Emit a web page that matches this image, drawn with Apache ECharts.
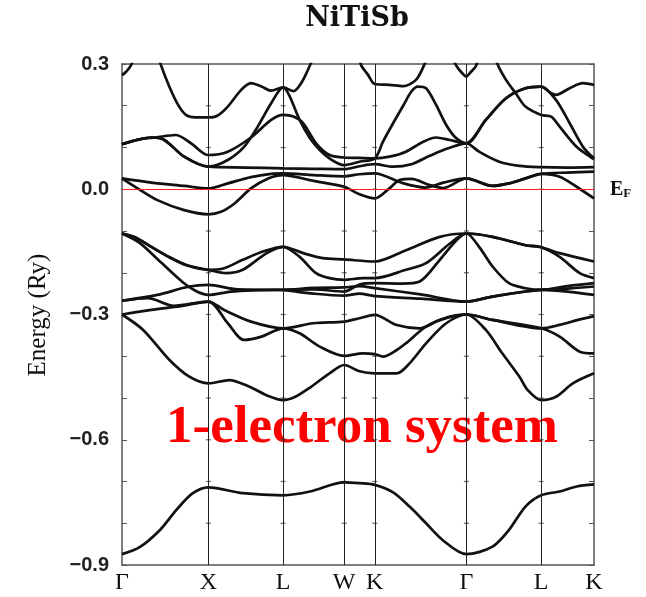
<!DOCTYPE html>
<html><head><meta charset="utf-8">
<script src="https://cdn.jsdelivr.net/npm/echarts@6/dist/echarts.min.js"></script>
<style>html,body{margin:0;padding:0;background:#fff}#c{width:646px;height:597px}</style>
</head><body><div id="c"></div>
<script>
// high-symmetry points: path distances (units of 2pi/a) and labels
const kpts = [0, 1, 1.866, 2.573, 2.927, 3.988, 4.854, 5.466];
const kLabels = ['Γ','X','L','W','K','Γ','L','K'];
const yTicks = [-0.9,-0.8,-0.7,-0.6,-0.5,-0.4,-0.3,-0.2,-0.1,0,0.1,0.2,0.3];
// bands: [segment parameter s (0=Γ,1=X,2=L,3=W,4=K,5=Γ,6=L,7=K), Energy (Ry)]
const bandSbS = [[0,-0.874],[0.2,-0.858],[0.44,-0.816],[0.63,-0.768],[0.82,-0.728],[1,-0.714],[1.46,-0.728],[2,-0.733],[2.44,-0.724],[3,-0.702],[3.5,-0.704],[4,-0.708],[4.2,-0.726],[4.38,-0.760],[4.56,-0.800],[4.74,-0.840],[5,-0.874],[5.35,-0.856],[5.57,-0.816],[5.79,-0.760],[6,-0.733],[6.35,-0.724],[6.67,-0.712],[7,-0.707]];
const bandP1 = [[0,-0.300],[0.245,-0.337],[0.55,-0.409],[0.78,-0.449],[1,-0.465],[1.28,-0.457],[1.55,-0.473],[1.8,-0.495],[2,-0.505],[2.2,-0.497],[2.44,-0.475],[2.76,-0.441],[3,-0.421],[3.5,-0.436],[4,-0.441],[4.24,-0.441],[4.38,-0.417],[4.56,-0.369],[4.78,-0.321],[5,-0.300],[5.26,-0.337],[5.48,-0.393],[5.71,-0.449],[5.82,-0.481],[6,-0.505],[6.28,-0.497],[6.6,-0.465],[7,-0.441]];
const bandE = [[0,-0.300],[0.34,-0.289],[0.68,-0.280],[1,-0.269],[1.26,-0.321],[1.48,-0.361],[1.71,-0.353],[2,-0.333],[2.27,-0.345],[2.6,-0.377],[3,-0.399],[3.61,-0.393],[4,-0.395],[4.09,-0.401],[4.24,-0.385],[4.34,-0.369],[4.56,-0.329],[4.82,-0.305],[5,-0.300],[5.35,-0.313],[6,-0.333],[6.35,-0.353],[6.73,-0.389],[7,-0.393]];
const bandD = [[0,-0.267],[0.3,-0.261],[0.6,-0.279],[1,-0.269],[1.21,-0.289],[1.57,-0.317],[2,-0.333],[2.49,-0.321],[3,-0.317],[3.5,-0.309],[4,-0.301],[4.24,-0.325],[4.49,-0.333],[4.71,-0.313],[5,-0.300],[5.35,-0.313],[6,-0.333],[6.35,-0.325],[6.7,-0.313],[7,-0.304]];
const bandC = [[0,-0.267],[0.41,-0.253],[0.78,-0.233],[1,-0.229],[1.39,-0.240],[2,-0.241],[2.5,-0.236],[3,-0.235],[3.5,-0.232],[4,-0.237],[4.5,-0.252],[5,-0.269],[5.35,-0.257],[5.79,-0.245],[6,-0.241],[6.5,-0.245],[7,-0.253]];
const bandC2 = [[2,-0.241],[2.5,-0.250],[3,-0.255],[3.5,-0.250],[4,-0.256],[4.5,-0.262],[5,-0.269],[5.35,-0.257],[5.79,-0.245],[6,-0.241],[6.5,-0.238],[7,-0.233]];
const bandB = [[0,-0.106],[0.2,-0.128],[0.45,-0.175],[0.7,-0.222],[0.85,-0.243],[1,-0.253],[1.3,-0.245],[1.6,-0.242],[2,-0.241],[2.5,-0.240],[3,-0.245],[3.5,-0.228],[4,-0.225],[4.3,-0.226],[4.49,-0.221],[4.71,-0.169],[4.88,-0.125],[5,-0.106],[5.17,-0.138],[5.35,-0.185],[5.57,-0.225],[5.79,-0.237],[6,-0.241],[6.5,-0.232],[7,-0.225]];
const bandA1 = [[0,-0.106],[0.15,-0.115],[0.34,-0.138],[0.55,-0.163],[0.75,-0.182],[1,-0.193],[1.2,-0.190],[1.46,-0.169],[1.75,-0.148],[2,-0.138],[2.33,-0.153],[2.65,-0.165],[3,-0.168],[4,-0.173],[4.34,-0.146],[4.71,-0.114],[5,-0.106],[5.35,-0.114],[5.79,-0.134],[6,-0.139],[6.35,-0.153],[7,-0.173]];
const bandA2 = [[0,-0.106],[0.15,-0.115],[0.34,-0.138],[0.55,-0.163],[0.75,-0.182],[1,-0.193],[1.24,-0.201],[1.46,-0.193],[1.78,-0.153],[2,-0.138],[2.27,-0.162],[2.54,-0.201],[2.76,-0.213],[3,-0.217],[3.61,-0.213],[4,-0.213],[4.34,-0.193],[4.56,-0.177],[4.82,-0.130],[5,-0.106],[5.35,-0.114],[5.79,-0.134],[6,-0.139],[6.35,-0.162],[6.73,-0.201],[7,-0.213]];
const bandG1 = [[0,0.026],[0.34,0.016],[0.72,0.008],[1,0.002],[1.26,0.014],[1.57,0.029],[1.84,0.037],[2,0.038],[2.5,0.034],[3,0.031],[3.5,0.036],[4,0.038],[4.3,0.015],[4.55,0.004],[4.75,0.016],[5,0.026],[5.35,0.008],[5.57,0.014],[5.79,0.026],[6,0.037],[6.5,0.040],[7,0.042]];
const bandG2 = [[0,0.026],[0.18,0.002],[0.41,-0.026],[0.72,-0.050],[1,-0.060],[1.17,-0.054],[1.35,-0.034],[1.57,0.002],[1.8,0.026],[2,0.034],[2.5,0.020],[3,0.006],[3.5,-0.012],[4,-0.022],[4.16,0.002],[4.27,0.022],[4.4,0.025],[4.6,0.010],[4.75,0.003],[5,0.026],[5.35,0.008],[5.57,0.014],[5.79,0.026],[6,0.037],[6.35,0.030],[6.67,0.006],[7,-0.022]];
const bandG3 = [[0,0.108],[0.22,0.120],[0.39,0.124],[0.62,0.130],[0.8,0.110],[1,0.082],[1.26,0.090],[1.57,0.124],[1.84,0.166],[2,0.178],[2.17,0.174],[2.33,0.158],[2.54,0.110],[2.76,0.082],[3,0.076],[3.5,0.075],[4,0.074],[4.16,0.078],[4.34,0.090],[4.53,0.114],[4.67,0.124],[4.82,0.118],[5,0.110],[5.26,0.166],[5.53,0.218],[5.79,0.242],[6,0.246],[6.19,0.230],[6.28,0.226],[6.54,0.242],[6.79,0.254],[7,0.250]];
const bandG4 = [[0,0.108],[0.34,0.124],[0.49,0.118],[0.72,0.078],[1,0.054],[1.5,0.052],[2,0.050],[2.5,0.049],[3,0.048],[3.5,0.055],[4,0.060],[4.2,0.054],[4.4,0.060],[4.6,0.080],[4.8,0.098],[5,0.110],[5.17,0.090],[5.44,0.066],[5.71,0.056],[6,0.053],[6.5,0.052],[7,0.053]];
const bandG7 = [[0,0.108],[0.34,0.124],[0.49,0.118],[0.72,0.078],[1,0.054],[1.26,0.070],[1.48,0.102],[1.66,0.150],[1.84,0.206],[2,0.244],[2.1,0.225],[2.27,0.166],[2.44,0.122],[2.6,0.094],[2.8,0.070],[3,0.058],[3.5,0.066],[4,0.074],[4.09,0.114],[4.2,0.158],[4.31,0.200],[4.4,0.234],[4.47,0.246],[4.56,0.242],[4.67,0.202],[4.78,0.154],[4.89,0.122],[5,0.110],[5.26,0.166],[5.53,0.218],[5.79,0.242],[6,0.246],[6.28,0.214],[6.54,0.158],[6.79,0.102],[7,0.074]];
const bandG5a = [[0.35,0.36],[0.45,0.298],[0.55,0.245],[0.65,0.202],[0.74,0.178],[0.85,0.172],[1,0.172],[1.12,0.176],[1.26,0.198],[1.44,0.238],[1.57,0.254],[1.71,0.246],[1.84,0.236],[2,0.244],[2.17,0.235],[2.3,0.255],[2.44,0.297],[2.55,0.34]];
const bandG5b = [[3.45,0.34],[3.55,0.298],[3.78,0.274],[4,0.252],[4.16,0.250],[4.31,0.247],[4.45,0.262],[4.54,0.298],[4.62,0.34]];
const bandG6a = [[0,0.273],[0.05,0.282],[0.107,0.298],[0.17,0.34]];
const bandG6b = [[4.8,0.34],[4.89,0.296],[4.95,0.279],[5,0.270],[5.05,0.279],[5.13,0.296],[5.2,0.34]];
const bandG8 = [[5.35,0.34],[5.42,0.298],[5.53,0.262],[5.66,0.230],[5.79,0.198],[6,0.178],[6.19,0.174],[6.35,0.150],[6.67,0.102],[7,0.072]];

const bands = [bandSbS,bandP1,bandE,bandD,bandC,bandC2,bandB,bandA1,bandA2,bandG1,bandG2,bandG3,bandG4,bandG7,bandG5a,bandG5b,bandG6a,bandG6b,bandG8];

function sToK(s){ const i = Math.min(Math.floor(s), kpts.length-2); const t = s - i; return kpts[i] + t*(kpts[i+1]-kpts[i]); }

const chart = echarts.init(document.getElementById('c'), null, {renderer:'canvas'});
const series = bands.map(b => ({
  type:'line', data: b.map(p => [sToK(p[0]), p[1]]), smooth:0.3, showSymbol:false, clip:true,
  lineStyle:{color:'#111', width:2.7}, silent:true, animation:false
}));
// k-point verticals and Fermi level
series.push({
  type:'line', data:[], silent:true, animation:false,
  markLine:{ silent:true, symbol:['none','none'], animation:false, label:{show:false},
    data:[
      ...kpts.slice(1,-1).map(k => ({xAxis:k, lineStyle:{color:'#222', width:1, type:'solid'}})),
      {yAxis:0, lineStyle:{color:'#ff2020', width:1, type:'solid'}}
    ]}
});
// small tick marks along k-point verticals
const tickMarks = [];
kpts.slice(1,-1).forEach(k => yTicks.slice(1,-1).forEach(v => tickMarks.push([k, v])));
series.push({type:'scatter', data:tickMarks, symbol:'rect', symbolSize:[5,1.2], itemStyle:{color:'#444'}, silent:true, animation:false, z:1});

const axisFrame = {lineStyle:{color:'#555', width:1.5}};
chart.setOption({
  animation:false,
  grid:{left:122, right:52, top:64, bottom:32, containLabel:false},
  xAxis:[{
    type:'value', min:0, max:kpts[kpts.length-1], position:'bottom',
    axisLine:{show:true, onZero:false, ...axisFrame},
    axisTick:{show:false}, splitLine:{show:false},
    axisLabel:{customValues:kpts, formatter:(v)=>{ const i = kpts.findIndex(k=>Math.abs(k-v)<1e-6); return i>=0?kLabels[i]:''; },
      fontFamily:'Liberation Serif', fontSize:24, color:'#111', margin:6}
  },{
    type:'value', min:0, max:kpts[kpts.length-1], position:'top',
    axisLine:{show:true, onZero:false, ...axisFrame}, axisTick:{show:false}, axisLabel:{show:false}, splitLine:{show:false}
  }],
  yAxis:[{
    type:'value', min:-0.9, max:0.3, interval:0.1, position:'left',
    axisLine:{show:true, onZero:false, ...axisFrame},
    axisTick:{show:true, inside:true, length:5, lineStyle:{color:'#555'}}, splitLine:{show:false},
    axisLabel:{formatter:(v)=>{ const n=Math.round(v*10); if(n%3!==0) return ''; return (n<0?'−':'')+Math.abs(v).toFixed(1); },
      fontFamily:'Liberation Sans', fontWeight:'bold', fontSize:20, color:'#222', margin:13}
  },{
    type:'value', min:-0.9, max:0.3, interval:0.1, position:'right',
    axisLine:{show:true, onZero:false, ...axisFrame},
    axisTick:{show:true, inside:true, length:5, lineStyle:{color:'#555'}}, axisLabel:{show:false}, splitLine:{show:false}
  }],
  series: series,
  graphic:[
    {type:'text', x:357, y:19, style:{text:'NiTiSb', font:'bold 27px "DejaVu Serif"', fill:'#111', textAlign:'center', textVerticalAlign:'middle'}},
    {type:'text', x:38, y:315, rotation:Math.PI/2, style:{text:'Energy (Ry)', font:'25px "Liberation Serif"', fill:'#111', textAlign:'center', textVerticalAlign:'middle'}},
    {type:'text', x:362, y:428, style:{text:'1-electron system', font:'bold 53px "Liberation Serif"', fill:'#ff0000', textAlign:'center', textVerticalAlign:'middle'}},
    {type:'text', x:610, y:190, style:{text:'{e|E}{f|F}', rich:{e:{font:'bold 20px "Liberation Serif"', fill:'#111'}, f:{font:'bold 13px "Liberation Serif"', fill:'#111', padding:[8,0,0,0]}}, textVerticalAlign:'middle'}}
  ]
});
</script></body></html>
